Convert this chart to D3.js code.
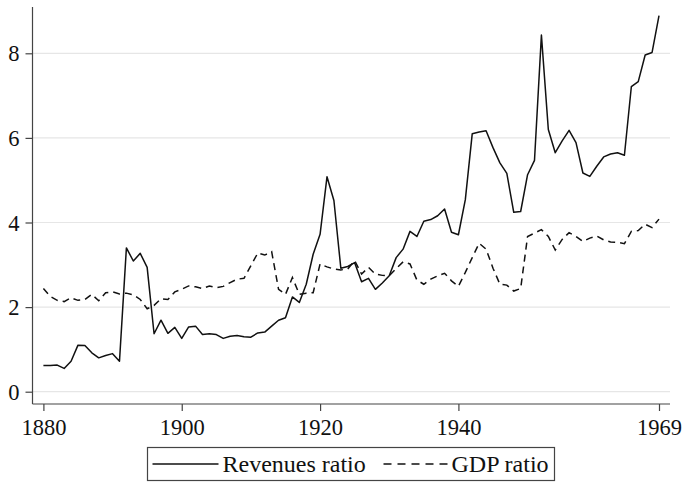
<!DOCTYPE html>
<html>
<head>
<meta charset="utf-8">
<script src="https://cdn.jsdelivr.net/npm/d3@7"></script>
<style>
  html, body { margin: 0; padding: 0; background: #fff; }
  svg { display: block; }
  text { font-family: "Liberation Serif", "Times New Roman", serif; fill: #111; }
</style>
</head>
<body>
<script>
const startYear = 1880;
const revenues = [
  0.62, 0.62, 0.63, 0.55, 0.72, 1.10, 1.09, 0.92, 0.80, 0.855,
  0.90, 0.72, 3.40, 3.09, 3.27, 2.94, 1.37, 1.69, 1.38, 1.52,
  1.26, 1.53, 1.55, 1.35, 1.37, 1.35, 1.26, 1.31, 1.33, 1.30,
  1.29, 1.39, 1.41, 1.55, 1.69, 1.75, 2.24, 2.11, 2.54, 3.25,
  3.72, 5.08, 4.52, 2.92, 2.96, 3.05, 2.60, 2.68, 2.42, 2.57,
  2.74, 3.17, 3.37, 3.79, 3.67, 4.03, 4.07, 4.16, 4.32, 3.77,
  3.71, 4.54, 6.10, 6.14, 6.17, 5.77, 5.41, 5.16, 4.24, 4.26,
  5.13, 5.47, 8.43, 6.20, 5.65, 5.93, 6.18, 5.89, 5.17, 5.09,
  5.33, 5.55, 5.62, 5.65, 5.59, 7.21, 7.33, 7.96, 8.02, 8.89
];
const gdp = [
  2.44, 2.25, 2.16, 2.13, 2.22, 2.16, 2.18, 2.30, 2.15, 2.34,
  2.36, 2.31, 2.33, 2.29, 2.18, 1.96, 2.04, 2.20, 2.18, 2.36,
  2.42, 2.50, 2.48, 2.44, 2.50, 2.46, 2.49, 2.58, 2.66, 2.68,
  2.98, 3.28, 3.23, 3.31, 2.42, 2.30, 2.70, 2.30, 2.33, 2.34,
  3.02, 2.95, 2.90, 2.88, 2.90, 3.10, 2.78, 2.94, 2.78, 2.75,
  2.74, 2.91, 3.07, 3.02, 2.64, 2.54, 2.66, 2.74, 2.80, 2.62,
  2.49, 2.82, 3.17, 3.51, 3.37, 2.92, 2.54, 2.52, 2.38, 2.44,
  3.67, 3.75, 3.83, 3.67, 3.35, 3.60, 3.76, 3.67, 3.55, 3.63,
  3.68, 3.59, 3.54, 3.53, 3.50, 3.79, 3.81, 3.96, 3.88, 4.08
];
const xTicks = [1880, 1900, 1920, 1940, 1969];
const yTicks = [0, 2, 4, 6, 8];
const seriesNames = ["Revenues ratio", "GDP ratio"];

const W = 682, H = 483;
const svg = d3.select("body").append("svg").attr("width", W).attr("height", H);

const x = d3.scaleLinear().domain([1880, 1969]).range([43.4, 659]);
const y = d3.scaleLinear().domain([0, 8]).range([391.7, 53.3]);

const axisLeftX = 32.5, axisBottomY = 404, plotTop = 7, plotRight = 670;

// gridlines
svg.append("g").selectAll("line").data(yTicks).join("line")
  .attr("x1", axisLeftX).attr("x2", plotRight)
  .attr("y1", d => y(d)).attr("y2", d => y(d))
  .attr("stroke", "#e6e6e6").attr("stroke-width", 1.2);

// y axis
const yAxis = d3.axisLeft(y).tickValues(yTicks).tickSize(7).tickPadding(6).tickFormat(d3.format("d"));
const gy = svg.append("g").attr("transform", `translate(${axisLeftX},0)`).call(yAxis);
gy.select(".domain").remove();
gy.append("line").attr("x1", 0).attr("x2", 0).attr("y1", plotTop).attr("y2", axisBottomY)
  .attr("stroke", "#444").attr("stroke-width", 1.2);
gy.selectAll(".tick line").attr("stroke", "#444").attr("stroke-width", 1.2);
gy.selectAll(".tick text").attr("font-size", 22.5).attr("fill", "#111")
  .style("font-family", "'Liberation Serif', serif").attr("dy", "0.34em");

// x axis
const xAxis = d3.axisBottom(x).tickValues(xTicks).tickSize(7).tickPadding(6).tickFormat(d3.format("d"));
const gx = svg.append("g").attr("transform", `translate(0,${axisBottomY})`).call(xAxis);
gx.select(".domain").remove();
gx.append("line").attr("x1", axisLeftX).attr("x2", plotRight).attr("y1", 0).attr("y2", 0)
  .attr("stroke", "#444").attr("stroke-width", 1.2);
gx.selectAll(".tick line").attr("stroke", "#444").attr("stroke-width", 1.2);
gx.selectAll(".tick text").attr("font-size", 22.5).attr("fill", "#111")
  .style("font-family", "'Liberation Serif', serif").attr("dy", "0.78em");

// lines
const line = d3.line().x((d, i) => x(startYear + i)).y(d => y(d));
svg.append("path").datum(revenues).attr("d", line)
  .attr("fill", "none").attr("stroke", "#111").attr("stroke-width", 1.5).attr("stroke-linejoin", "round");
svg.append("path").datum(gdp).attr("d", line)
  .attr("fill", "none").attr("stroke", "#111").attr("stroke-width", 1.5)
  .attr("stroke-dasharray", "7,5");

// legend
const lg = svg.append("g");
lg.append("rect").attr("x", 147.5).attr("y", 447.5).attr("width", 407).attr("height", 33)
  .attr("fill", "#fff").attr("stroke", "#444").attr("stroke-width", 1.2);
lg.append("line").attr("x1", 152.5).attr("x2", 218.5).attr("y1", 464).attr("y2", 464)
  .attr("stroke", "#111").attr("stroke-width", 1.5);
lg.append("text").attr("x", 222.5).attr("y", 472).attr("font-size", 24).text(seriesNames[0]);
lg.append("line").attr("x1", 383.5).attr("x2", 448.5).attr("y1", 464).attr("y2", 464)
  .attr("stroke", "#111").attr("stroke-width", 1.5).attr("stroke-dasharray", "8,6");
lg.append("text").attr("x", 451.5).attr("y", 472).attr("font-size", 24).text(seriesNames[1]);
</script>
</body>
</html>
